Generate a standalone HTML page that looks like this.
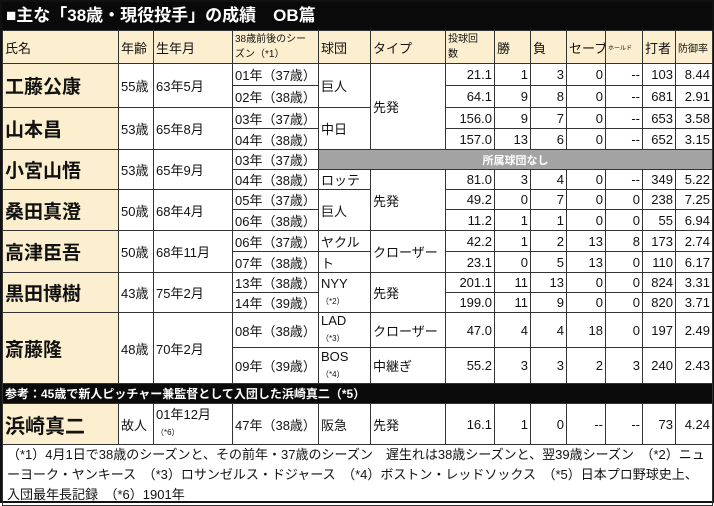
<!DOCTYPE html>
<html><head><meta charset="utf-8"><style>
body{margin:0;width:714px;height:503px;overflow:hidden;background:#fff;font-family:"Liberation Sans","Noto Sans CJK JP",sans-serif;}
.wrap{position:absolute;left:0;top:0;width:710px;height:499px;border:2px solid #111;background:#fff;}
.title{height:28px;background:#0a0a0a;color:#fff;font-weight:bold;font-size:17px;line-height:28px;padding-left:4px;}
table{border-collapse:collapse;table-layout:fixed;width:710px;font-size:13px;}
td{border:1px solid #333;padding:0 2px;white-space:nowrap;overflow:hidden;color:#111;}
.h{background:#fcefcf;vertical-align:middle;font-size:13px;}
.nm{background:#fcefcf;font-weight:bold;font-size:19px;}
.r{text-align:right;}
.gray{background:#a3a3a3;color:#fff;text-align:center;font-weight:bold;font-size:11px;}
.blk{background:#0a0a0a;color:#fff;font-weight:bold;font-size:12px;}
small{font-size:8px;}
.fn{font-size:13px;line-height:20px;padding:0 4px;white-space:normal;}
</style></head><body><div class="wrap">
<div class="title">■主な「38歳・現役投手」の成績　OB篇</div>
<table>
<colgroup><col style="width:116px"><col style="width:35px"><col style="width:79px"><col style="width:86px"><col style="width:52px"><col style="width:75px"><col style="width:49px"><col style="width:36px"><col style="width:36px"><col style="width:39px"><col style="width:37px"><col style="width:33px"><col style="width:37px"></colgroup>
<tr style="height:33px"><td class="h">氏名</td><td class="h">年齢</td><td class="h">生年月</td><td class="h" style="font-size:10px;line-height:15px;white-space:normal">38歳前後のシー<br>ズン（*1）</td><td class="h">球団</td><td class="h">タイプ</td><td class="h" style="font-size:10px;line-height:15px;white-space:normal">投球回<br>数</td><td class="h">勝</td><td class="h">負</td><td class="h">セーブ</td><td class="h" style="font-size:6px">ホールド</td><td class="h">打者</td><td class="h" style="font-size:10px">防御率</td></tr>
<tr style="height:22px"><td class="nm" rowspan="2">工藤公康</td><td rowspan="2">55歳</td><td rowspan="2">63年5月</td><td>01年（37歳）</td><td rowspan="2">巨人</td><td rowspan="4">先発</td><td class="r">21.1</td><td class="r">1</td><td class="r">3</td><td class="r">0</td><td class="r">--</td><td class="r">103</td><td class="r">8.44</td></tr>
<tr style="height:22px"><td>02年（38歳）</td><td class="r">64.1</td><td class="r">9</td><td class="r">8</td><td class="r">0</td><td class="r">--</td><td class="r">681</td><td class="r">2.91</td></tr>
<tr style="height:21px"><td class="nm" rowspan="2">山本昌</td><td rowspan="2">53歳</td><td rowspan="2">65年8月</td><td>03年（37歳）</td><td rowspan="2">中日</td><td class="r">156.0</td><td class="r">9</td><td class="r">7</td><td class="r">0</td><td class="r">--</td><td class="r">653</td><td class="r">3.58</td></tr>
<tr style="height:21px"><td>04年（38歳）</td><td class="r">157.0</td><td class="r">13</td><td class="r">6</td><td class="r">0</td><td class="r">--</td><td class="r">652</td><td class="r">3.15</td></tr>
<tr style="height:19px"><td class="nm" rowspan="2">小宮山悟</td><td rowspan="2">53歳</td><td rowspan="2">65年9月</td><td>03年（37歳）</td><td class="gray" colspan="9">所属球団なし</td></tr>
<tr style="height:20px"><td>04年（38歳）</td><td>ロッテ</td><td rowspan="3">先発</td><td class="r">81.0</td><td class="r">3</td><td class="r">4</td><td class="r">0</td><td class="r">--</td><td class="r">349</td><td class="r">5.22</td></tr>
<tr style="height:20px"><td class="nm" rowspan="2">桑田真澄</td><td rowspan="2">50歳</td><td rowspan="2">68年4月</td><td>05年（37歳）</td><td rowspan="2">巨人</td><td class="r">49.2</td><td class="r">0</td><td class="r">7</td><td class="r">0</td><td class="r">0</td><td class="r">238</td><td class="r">7.25</td></tr>
<tr style="height:21px"><td>06年（38歳）</td><td class="r">11.2</td><td class="r">1</td><td class="r">1</td><td class="r">0</td><td class="r">0</td><td class="r">55</td><td class="r">6.94</td></tr>
<tr style="height:21px"><td class="nm" rowspan="2">高津臣吾</td><td rowspan="2">50歳</td><td rowspan="2">68年11月</td><td>06年（37歳）</td><td>ヤクル</td><td rowspan="2">クローザー</td><td class="r">42.2</td><td class="r">1</td><td class="r">2</td><td class="r">13</td><td class="r">8</td><td class="r">173</td><td class="r">2.74</td></tr>
<tr style="height:21px"><td>07年（38歳）</td><td>ト</td><td class="r">23.1</td><td class="r">0</td><td class="r">5</td><td class="r">13</td><td class="r">0</td><td class="r">110</td><td class="r">6.17</td></tr>
<tr style="height:20px"><td class="nm" rowspan="2">黒田博樹</td><td rowspan="2">43歳</td><td rowspan="2">75年2月</td><td>13年（38歳）</td><td rowspan="2" style="line-height:16px">NYY<br><small>（*2）</small></td><td rowspan="2">先発</td><td class="r">201.1</td><td class="r">11</td><td class="r">13</td><td class="r">0</td><td class="r">0</td><td class="r">824</td><td class="r">3.31</td></tr>
<tr style="height:20px"><td>14年（39歳）</td><td class="r">199.0</td><td class="r">11</td><td class="r">9</td><td class="r">0</td><td class="r">0</td><td class="r">820</td><td class="r">3.71</td></tr>
<tr style="height:35px"><td class="nm" rowspan="2">斎藤隆</td><td rowspan="2">48歳</td><td rowspan="2">70年2月</td><td>08年（38歳）</td><td style="line-height:16px">LAD<br><small>（*3）</small></td><td>クローザー</td><td class="r">47.0</td><td class="r">4</td><td class="r">4</td><td class="r">18</td><td class="r">0</td><td class="r">197</td><td class="r">2.49</td></tr>
<tr style="height:36px"><td>09年（39歳）</td><td style="line-height:16px">BOS<br><small>（*4）</small></td><td>中継ぎ</td><td class="r">55.2</td><td class="r">3</td><td class="r">3</td><td class="r">2</td><td class="r">3</td><td class="r">240</td><td class="r">2.43</td></tr>
<tr style="height:20px"><td class="blk" colspan="13">参考：45歳で新人ピッチャー兼監督として入団した浜崎真二（*5）</td></tr>
<tr style="height:41px"><td class="nm" style="font-size:20px">浜崎真二</td><td>故人</td><td style="line-height:16px">01年12月<br><small>（*6）</small></td><td>47年（38歳）</td><td>阪急</td><td>先発</td><td class="r">16.1</td><td class="r">1</td><td class="r">0</td><td class="r">--</td><td class="r">--</td><td class="r">73</td><td class="r">4.24</td></tr>
<tr style="height:57px"><td class="fn" colspan="13">（*1）4月1日で38歳のシーズンと、その前年・37歳のシーズン　遅生れは38歳シーズンと、翌39歳シーズン　（*2）ニューヨーク・ヤンキース　（*3）ロサンゼルス・ドジャース　（*4）ボストン・レッドソックス　（*5）日本プロ野球史上、入団最年長記録　（*6）1901年</td></tr>
</table></div></body></html>
